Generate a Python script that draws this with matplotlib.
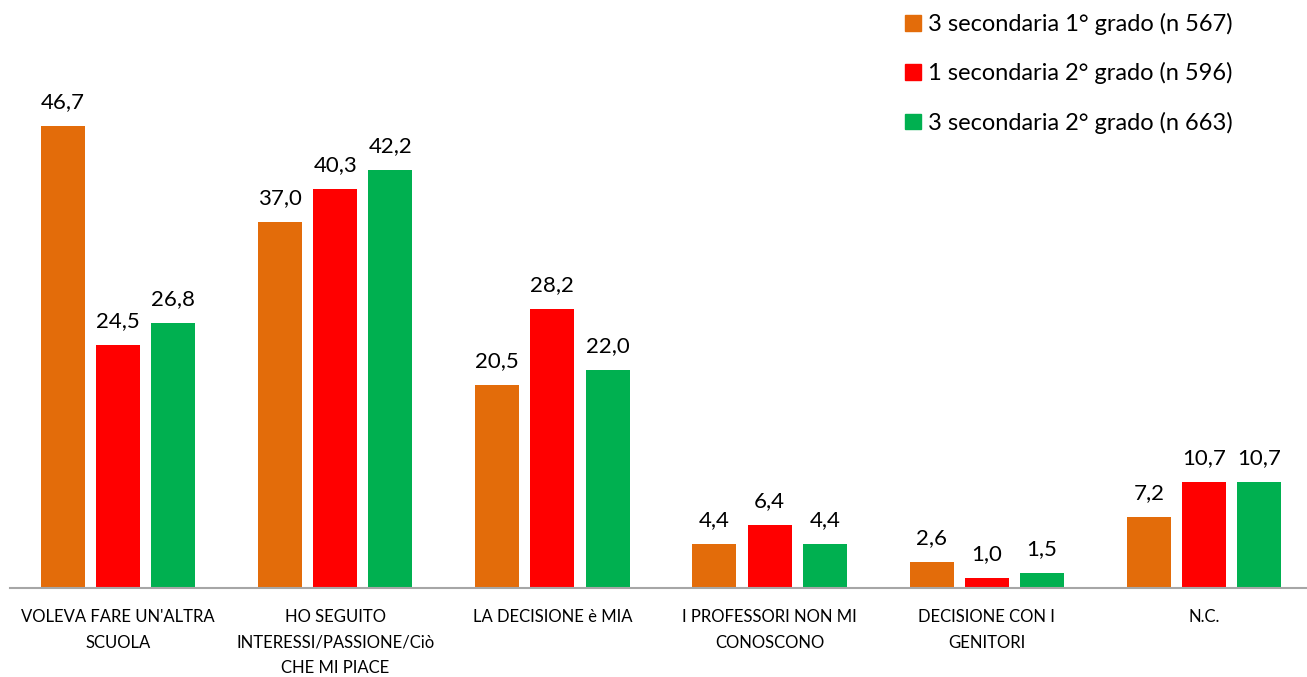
import numpy as np
import matplotlib.pyplot as plt
from matplotlib.patches import Patch

plt.rcParams['font.family'] = ['Lato', 'DejaVu Sans']

categories = ["VOLEVA FARE UN'ALTRA\nSCUOLA",
              "HO SEGUITO\nINTERESSI/PASSIONE/Ciò\nCHE MI PIACE",
              "LA DECISIONE è MIA",
              "I PROFESSORI NON MI\nCONOSCONO",
              "DECISIONE CON I\nGENITORI",
              "N.C."]
series_names = ["3 secondaria 1° grado (n 567)",
                "1 secondaria 2° grado (n 596)",
                "3 secondaria 2° grado (n 663)"]
sec1_3 = [46.7, 37.0, 20.5, 4.4, 2.6, 7.2]
sec2_1 = [24.5, 40.3, 28.2, 6.4, 1.0, 10.7]
sec2_3 = [26.8, 42.2, 22.0, 4.4, 1.5, 10.7]
colors = ['#E36C0A', '#FF0000', '#00B050']

fig = plt.figure(figsize=(13.07, 6.77), dpi=100)
ax = fig.add_axes([9.5 / 1307, 89 / 677, 1303 / 1307, 495 / 677])

x = np.arange(len(categories))
width = 0.203
step = 0.254
for i, (vals, col) in enumerate(zip([sec1_3, sec2_1, sec2_3], colors)):
    pos = x + (i - 1) * step
    ax.bar(pos, vals, width=width, color=col)
    for p, v in zip(pos, vals):
        ax.text(p, v + 1.4, f"{v:.1f}".replace('.', ','), ha='center', va='bottom',
                fontsize=16)

ax.set_xlim(-0.5, len(categories) - 0.5)
ax.set_ylim(0, 50)
ax.set_yticks([])
ax.set_xticks(x)
ax.set_xticklabels(categories, fontsize=12, linespacing=1.75)
ax.tick_params(axis='x', length=0, pad=15)
for s in ['top', 'right', 'left']:
    ax.spines[s].set_visible(False)
ax.spines['bottom'].set_color('#A6A6A6')
ax.spines['bottom'].set_linewidth(1.5)

handles = [Patch(color=c) for c in colors]
fig.legend(handles, series_names, loc='upper left', bbox_to_anchor=(884 / 1307, 1.012),
           frameon=False, fontsize=17, handlelength=0.65, handleheight=0.65,
           handletextpad=0.3, labelspacing=1.15)

fig.savefig('out.png', dpi=100)
